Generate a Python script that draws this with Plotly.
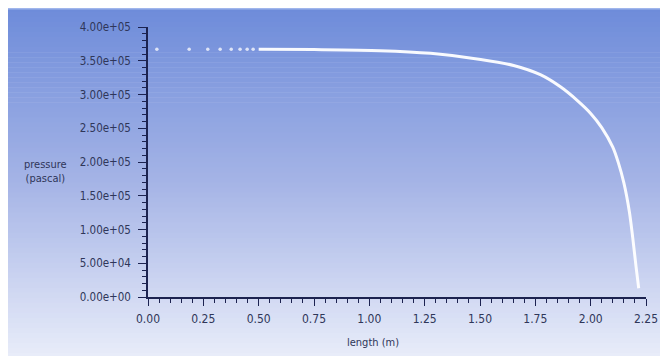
import plotly.graph_objects as go

# ---- data ----
sparse_length = [0.04, 0.186, 0.27, 0.326, 0.376, 0.416, 0.448, 0.475]
sparse_pressure = [3.67e5, 3.67e5, 3.67e5, 3.67e5, 3.67e5, 3.67e5, 3.67e5, 3.67e5]

curve_length = [0.50, 0.75, 1.05, 1.277, 1.503, 1.652, 1.775, 1.865, 1.94, 2.00,
                2.05, 2.10, 2.125, 2.15, 2.175, 2.19, 2.205, 2.217]
curve_pressure = [3.67e5, 3.665e5, 3.65e5, 3.61e5, 3.52e5, 3.43e5, 3.29e5, 3.11e5,
                  2.91e5, 2.72e5, 2.51e5, 2.22e5, 1.99e5, 1.69e5, 1.26e5, 0.88e5,
                  0.45e5, 0.13e5]

y_tick_vals = [0, 5e4, 1e5, 1.5e5, 2e5, 2.5e5, 3e5, 3.5e5, 4e5]
y_tick_text = ["0.00e+00", "5.00e+04", "1.00e+05", "1.50e+05", "2.00e+05",
               "2.50e+05", "3.00e+05", "3.50e+05", "4.00e+05"]
x_tick_vals = [0, 0.25, 0.5, 0.75, 1.0, 1.25, 1.5, 1.75, 2.0, 2.25]
x_tick_text = ["0.00", "0.25", "0.50", "0.75", "1.00", "1.25", "1.50", "1.75", "2.00", "2.25"]

# ---- layout geometry (figure pixels; page adds an 8px body margin) ----
W, H = 660, 348
L, R, T, B = 140, 22, 19, 59
pw, ph = W - L - R, H - T - B

def px_to_paper_x(px):
    return (px - L) / pw

def py_to_paper_y(py):
    return (H - B - py) / ph

FONT = "Liberation Sans Narrow, DejaVu Sans Condensed, Arial Narrow, sans-serif"
AXIS_COLOR = "#1c2350"
TEXT_COLOR = "#2f3659"

# gradient background stripes
top_rgb = (110, 140, 218)
mid_rgb = (165, 180, 230)
bot_rgb = (232, 236, 249)
shapes = []
n = 70
y0px, y1px = -1, H + 2
for i in range(n):
    t = i / (n - 1)
    if t < 0.5:
        a, b, tt = top_rgb, mid_rgb, t / 0.5
    else:
        a, b, tt = mid_rgb, bot_rgb, (t - 0.5) / 0.5
    c = tuple(int(round(a[k] + (b[k] - a[k]) * tt)) for k in range(3))
    ya = y0px + (y1px - y0px) * i / n
    yb = y0px + (y1px - y0px) * (i + 1) / n + 0.6
    shapes.append(dict(type="rect", xref="paper", yref="paper", layer="below",
                       x0=px_to_paper_x(-1), x1=px_to_paper_x(W + 2),
                       y0=py_to_paper_y(yb), y1=py_to_paper_y(ya),
                       line=dict(width=0), fillcolor="rgb(%d,%d,%d)" % c))
shapes.append(dict(type="rect", xref="paper", yref="paper", layer="below",
                   x0=px_to_paper_x(-1), x1=px_to_paper_x(W + 2),
                   y0=py_to_paper_y(1.5), y1=py_to_paper_y(-1),
                   line=dict(width=0), fillcolor="rgb(160,182,236)"))

fig = go.Figure()
fig.add_trace(go.Scatter(x=sparse_length, y=sparse_pressure, mode="markers",
                         marker=dict(color="rgba(255,255,255,0.75)", size=3.5),
                         showlegend=False, hoverinfo="skip"))
fig.add_trace(go.Scatter(x=curve_length, y=curve_pressure, mode="lines",
                         line=dict(color="rgba(255,255,255,0.95)", width=3, shape="spline", smoothing=0.8),
                         showlegend=False))

fig.update_layout(
    width=W, height=H,
    margin=dict(l=L, r=R, t=T, b=B),
    paper_bgcolor="white",
    plot_bgcolor="rgba(0,0,0,0)",
    shapes=shapes,
    font=dict(family=FONT, size=12, color=TEXT_COLOR),
    xaxis=dict(range=[0, 2.25], tickvals=x_tick_vals, ticktext=x_tick_text, automargin=False,
               showgrid=False, zeroline=False, showline=True, linecolor=AXIS_COLOR, linewidth=1.5,
               ticks="outside", ticklen=7, tickwidth=1.2, tickcolor=AXIS_COLOR,
               ticklabelstandoff=3,
               minor=dict(dtick=0.05, ticks="outside", ticklen=4, tickcolor=AXIS_COLOR, tickwidth=1),
               tickfont=dict(family=FONT, size=12, color=TEXT_COLOR)),
    yaxis=dict(range=[0, 4e5], tickvals=y_tick_vals, ticktext=y_tick_text, automargin=False,
               showgrid=False, zeroline=False, showline=True, linecolor=AXIS_COLOR, linewidth=1.5,
               ticks="outside", ticklen=8, tickwidth=1.2, tickcolor=AXIS_COLOR,
               ticklabelstandoff=5,
               minor=dict(dtick=1e4, ticks="outside", ticklen=4, tickcolor=AXIS_COLOR, tickwidth=1),
               tickfont=dict(family=FONT, size=11.5, color=TEXT_COLOR)),
    annotations=[
        dict(text="pressure<br>(pascal)", xref="paper", yref="paper",
             x=px_to_paper_x(37), y=py_to_paper_y(163), xanchor="center", yanchor="middle",
             showarrow=False, font=dict(family=FONT, size=11, color=TEXT_COLOR)),
        dict(text="length (m)", xref="paper", yref="paper",
             x=px_to_paper_x(365), y=py_to_paper_y(334), xanchor="center", yanchor="middle",
             showarrow=False, font=dict(family=FONT, size=11, color=TEXT_COLOR)),
    ],
)

fig.write_html("out.html")
